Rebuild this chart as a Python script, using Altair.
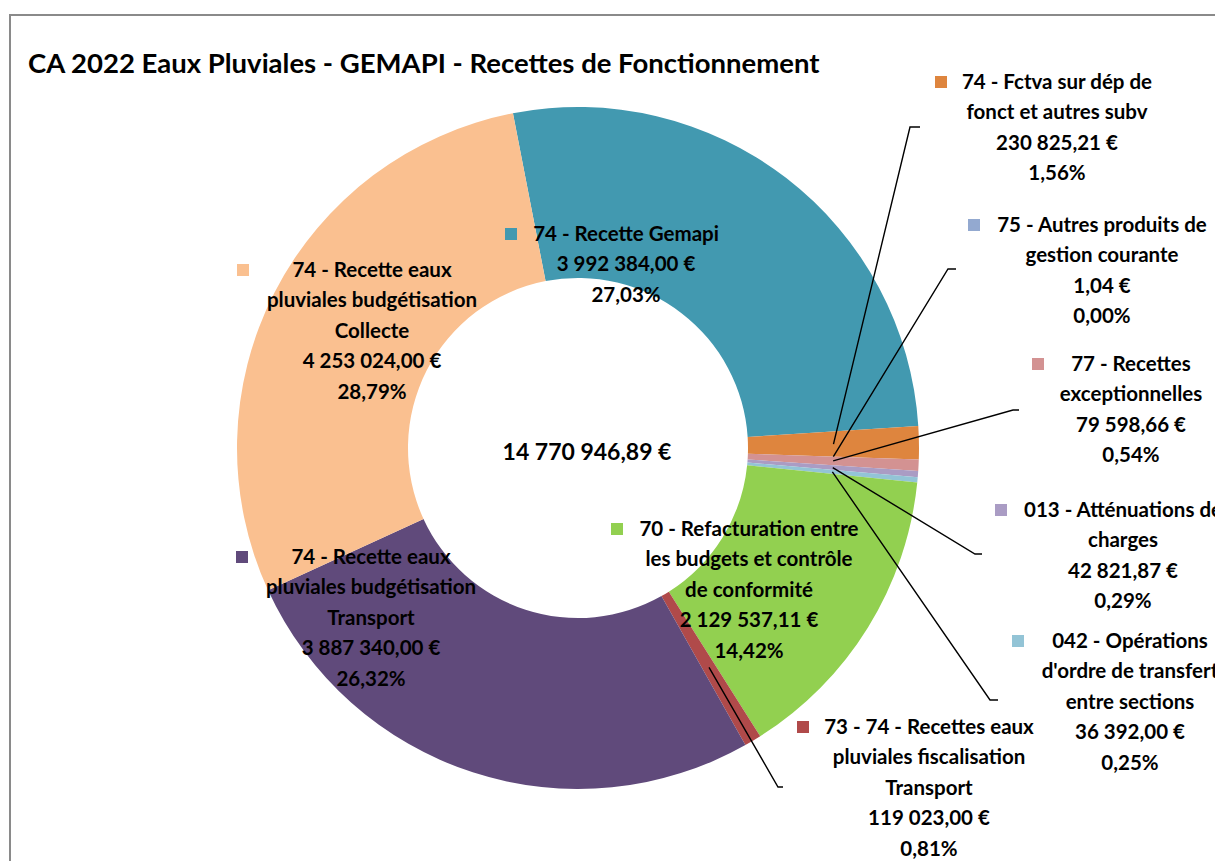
import math
import altair as alt
import pandas as pd

# ---------------- data ----------------
categories = [
    "74 - Recette Gemapi",
    "74 - Fctva sur dép de\nfonct et autres subv",
    "75 - Autres produits de\ngestion courante",
    "77 - Recettes\nexceptionnelles",
    "013 - Atténuations de\ncharges",
    "042 - Opérations\nd'ordre de transfert\nentre sections",
    "70 - Refacturation entre\nles budgets et contrôle\nde conformité",
    "73 - 74 - Recettes eaux\npluviales fiscalisation\nTransport",
    "74 - Recette eaux\npluviales budgétisation\nTransport",
    "74 - Recette eaux\npluviales budgétisation\nCollecte",
]
values = [3992384.00, 230825.21, 1.04, 79598.66, 42821.87, 36392.00,
          2129537.11, 119023.00, 3887340.00, 4253024.00]
colors = ["#4299B0", "#DE853E", "#93A9D0", "#D39292", "#AA9CC4", "#93C4D6",
          "#92D050", "#B04A4A", "#604A7B", "#FAC090"]
title_text = "CA 2022 Eaux Pluviales - GEMAPI - Recettes de Fonctionnement"

# ---------------- layout (page pixels) ----------------
OX, OY = 8, 8
CX, CY = 578 - OX, 448 - OY
R_IN, R_OUT = 170, 341
START_DEG = -11
label_cx = [626, 1057, 1102, 1131, 1123, 1130, 749, 929, 371, 372]
label_y1 = [235, 83, 226, 365, 511, 642, 530, 728, 558, 271]
square_x = [511, 941, 974, 1038, 1001, 1018, 617, 803, 242, 243]
LINE_H = 30.4
# leader lines: category index -> (elbow x, elbow y, end x)
leaders = {1: (910, 127, 920), 2: (948, 269, 956), 3: (1013, 410, 1019),
           4: (975, 554, 982), 5: (990, 700, 998), 7: (778, 787, 783)}
FONT = "Lato"
FS = 20.5
FS_CENTER = 23
FS_TITLE = 27.5

# ---------------- helpers ----------------
total = sum(values)


def fr_money(v):
    s = f"{v:,.2f}".replace(",", " ").replace(".", ",")
    return s + " €"


def fr_pct(v):
    return f"{v * 100:.2f}".replace(".", ",") + "%"


a0 = START_DEG * math.pi / 180
arc_df = pd.DataFrame({"cat": categories, "value": values, "idx": range(len(values))})

# text rows
trows = []
for i, cat in enumerate(categories):
    lines = cat.split("\n") + [fr_money(values[i]), fr_pct(values[i] / total)]
    for j, ln in enumerate(lines):
        trows.append({"px": label_cx[i] - OX, "py": label_y1[i] - OY + j * LINE_H,
                      "text": ln, "fs": FS})
trows.append({"px": 587 - OX, "py": 453 - OY, "text": fr_money(total), "fs": FS_CENTER})
text_df = pd.DataFrame(trows)

sq_df = pd.DataFrame({"cat": categories, "px": [x - OX for x in square_x],
                      "py": [y - OY - 1 for y in label_y1]})

# leader line points (start = mid-angle, mid-ring of the slice)
lrows = []
cum = 0.0
r_mid = (R_IN + R_OUT) / 2
for i, v in enumerate(values):
    mid = (cum + v / 2) / total
    cum += v
    if i in leaders:
        ang = a0 + mid * 2 * math.pi
        sx = CX + r_mid * math.sin(ang)
        sy = CY - r_mid * math.cos(ang)
        ex, ey, hx = leaders[i]
        lrows += [{"cat": categories[i], "pt": 0, "px": sx, "py": sy},
                  {"cat": categories[i], "pt": 1, "px": ex - OX, "py": ey - OY},
                  {"cat": categories[i], "pt": 2, "px": hx - OX, "py": ey - OY}]
line_df = pd.DataFrame(lrows)

color_scale = alt.Scale(domain=categories, range=colors)

border = alt.Chart(pd.DataFrame({"a": [0]})).mark_rect(
    fillOpacity=0, stroke="#8A8A8A", strokeWidth=2
).encode(x=alt.value(2), y=alt.value(7), x2=alt.value(1400), y2=alt.value(1200))

arcs = alt.Chart(arc_df).mark_arc(innerRadius=R_IN, outerRadius=R_OUT).encode(
    theta=alt.Theta("value:Q", stack=True,
                    scale=alt.Scale(range=[a0, a0 + 2 * math.pi])),
    color=alt.Color("cat:N", scale=color_scale, legend=None),
    order=alt.Order("idx:Q"),
    x=alt.value(CX), y=alt.value(CY),
)

leader_lines = alt.Chart(line_df).mark_line(color="black", strokeWidth=1.4).encode(
    x=alt.X("px:Q", scale=None, axis=None),
    y=alt.Y("py:Q", scale=None, axis=None),
    detail="cat:N",
    order="pt:Q",
)

squares = alt.Chart(sq_df).mark_square(size=144, opacity=1, filled=True).encode(
    x=alt.X("px:Q", scale=None, axis=None),
    y=alt.Y("py:Q", scale=None, axis=None),
    color=alt.Color("cat:N", scale=color_scale, legend=None),
)

texts = alt.Chart(text_df).mark_text(
    font=FONT, fontWeight="bold", align="center", baseline="middle", color="black"
).encode(
    x=alt.X("px:Q", scale=None, axis=None),
    y=alt.Y("py:Q", scale=None, axis=None),
    text="text:N",
    size=alt.Size("fs:Q", scale=None, legend=None),
)

title = alt.Chart(pd.DataFrame({"t": [title_text]})).mark_text(
    font=FONT, fontSize=FS_TITLE, fontWeight="bold", align="left", baseline="alphabetic",
    color="black"
).encode(x=alt.value(28 - OX), y=alt.value(73 - OY), text="t:N")

chart = alt.layer(border, arcs, leader_lines, squares, texts, title).properties(
    width=1207, height=853, padding=0,
    autosize=alt.AutoSizeParams(type="none"),
    background="white",
).configure_view(strokeWidth=0)

chart.save("out.html", embed_options={"renderer": "svg", "actions": False})
